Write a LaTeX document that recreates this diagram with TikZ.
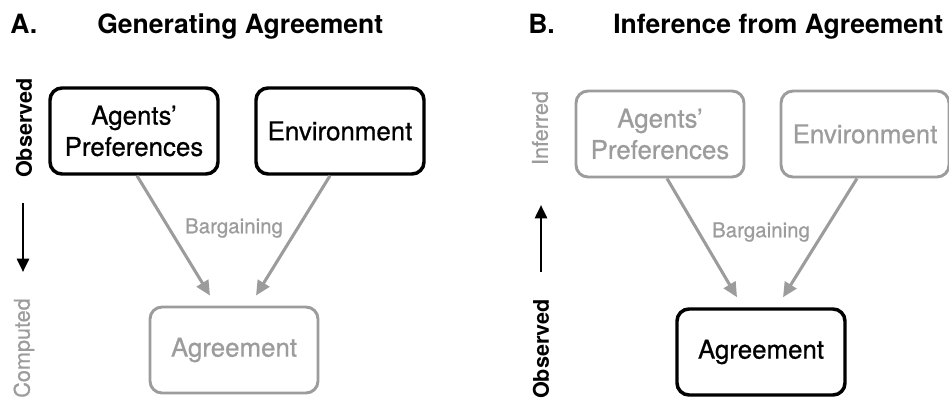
\documentclass[tikz,border=0pt]{standalone}
\usepackage{fontspec}
\setmainfont{TeX Gyre Heros}
\newfontfamily\medfont[FakeBold=0.7]{TeX Gyre Heros}
\usetikzlibrary{arrows.meta,calc}
\definecolor{lgray}{HTML}{9C9C9C}
\begin{document}
\begin{tikzpicture}[x=0.75pt,y=-0.75pt,
  boxblack/.style={draw=black,line width=2.6pt,rounded corners=9pt,text=black,
    minimum width=126pt,minimum height=64.5pt,align=center,inner sep=0pt,
    font=\medfont\fontsize{19.4}{23.5}\selectfont},
  boxgray/.style={boxblack,draw=lgray,line width=2.2pt,text=lgray},
  flow/.style={draw=lgray,line width=2.3pt,-{Triangle[length=11pt,width=10pt]}},
  dirarrow/.style={draw=black,line width=2pt,-{Triangle[length=10pt,width=9pt]}},
  title/.style={anchor=base west,inner sep=0pt,font=\fontsize{19.9}{23}\selectfont\bfseries},
  side/.style={rotate=90,inner sep=0pt,font=\medfont\fontsize{16.2}{19}\selectfont},
  sidebold/.style={side,font=\fontsize{16.2}{19}\selectfont\bfseries},
  barg/.style={inner sep=0pt,text=lgray,font=\medfont\fontsize{15.4}{18}\selectfont}]
\useasboundingbox (0,0) rectangle (949,400);
% Panel A
\node[title] (tA) at (10,33) {A.};
\node[title] (ttA) at (97,33) {Generating Agreement};
\node[boxblack] (apA) at (134,131) {Agents’\\Preferences};
\node[boxblack] (enA) at (340,131) {Environment};
\node[boxgray] (agA) at (234,350) {Agreement};
\node[sidebold] (obsA) at (24,128) {Observed};
\node[side,text=lgray] (cmpA) at (24,348) {Computed};
\coordinate (daS) at (23,203);
\coordinate (daE) at (23,272);
\draw[dirarrow] (daS) -- (daE);
\draw[flow] ($(apA.south)+(3,0)$) -- ($(agA.north)+(-24,-10)$);
\draw[flow] ($(enA.south)+(-10,0)$) -- ($(agA.north)+(22,-10)$);
\node[barg] (bgA) at (234,228) {Bargaining};
% Panel B
\node[title] (tB) at (528,33) {B.};
\node[title] (ttB) at (613,33) {Inference from Agreement};
\node[boxgray] (apB) at (660,134) {Agents’\\Preferences};
\node[boxgray] (enB) at (865,134) {Environment};
\node[boxblack] (agB) at (761,352) {Agreement};
\node[side,text=lgray] (infB) at (540,128) {Inferred};
\node[sidebold] (obsB) at (541,349) {Observed};
\coordinate (dbS) at (541,272);
\coordinate (dbE) at (541,205);
\draw[dirarrow] (dbS) -- (dbE);
\draw[flow] ($(apB.south)+(7,0)$) -- ($(agB.north)+(-24,-10)$);
\draw[flow] ($(enB.south)+(-8,0)$) -- ($(agB.north)+(22,-10)$);
\node[barg] (bgB) at (761,232) {Bargaining};
\end{tikzpicture}
\end{document}
